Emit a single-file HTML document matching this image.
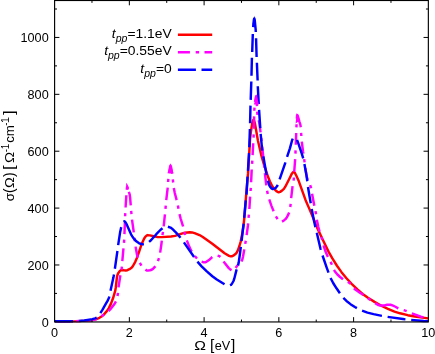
<!DOCTYPE html>
<html><head><meta charset="utf-8"><title>plot</title>
<style>
html,body{margin:0;padding:0;background:#fff;}
body{width:435px;height:354px;overflow:hidden;}
svg{display:block;}
text{font-family:"Liberation Sans",sans-serif;fill:#000;}
.it{font-style:italic;}
</style></head><body>
<div style="will-change:transform;width:435px;height:354px;">
<svg width="435" height="354" viewBox="0 0 435 354">
<g fill="none" stroke-width="2.45" stroke-linejoin="round" stroke-linecap="butt">
<path stroke="#ff0000" d="M55.00,321.40 L77.80,321.13 L87.95,320.60 L92.25,320.03 L96.35,319.07 L99.45,317.78 L101.90,316.24 L103.80,314.59 L107.00,310.87 L108.85,308.06 L110.90,303.90 L113.10,298.04 L115.20,290.93 L115.80,287.24 L117.00,276.72 L117.60,274.61 L118.55,272.66 L120.05,270.72 L120.75,270.29 L122.45,270.00 L124.20,270.30 L125.70,270.50 L127.35,270.19 L129.45,269.23 L131.55,267.84 L132.80,266.25 L135.25,261.80 L137.00,257.67 L139.25,251.32 L141.70,243.91 L144.05,238.77 L145.25,236.88 L146.90,235.38 L147.65,235.10 L149.85,235.36 L154.90,236.54 L157.85,237.15 L161.85,237.12 L171.05,236.48 L175.05,235.89 L182.45,233.38 L184.85,232.73 L189.80,232.31 L192.00,232.41 L194.60,233.10 L199.50,235.06 L202.80,237.01 L212.30,243.72 L220.75,250.27 L224.60,253.29 L229.05,255.91 L230.55,256.37 L231.80,256.30 L233.25,255.70 L235.15,254.28 L236.55,252.87 L237.65,250.83 L239.35,246.22 L240.70,241.55 L242.25,233.86 L243.60,224.91 L244.65,214.94 L246.10,195.25 L248.00,173.64 L250.05,139.38 L250.90,131.90 L252.15,123.64 L252.90,120.63 L253.35,119.85 L253.65,119.85 L254.10,120.51 L254.85,123.09 L256.30,131.19 L257.90,140.44 L261.20,154.85 L263.70,163.55 L268.10,177.01 L269.95,181.49 L272.40,186.46 L273.90,188.74 L276.40,191.15 L277.75,191.99 L278.80,192.20 L280.00,191.91 L281.65,190.88 L283.90,188.88 L285.30,186.71 L289.85,177.78 L291.85,173.64 L292.80,172.38 L293.45,172.01 L294.05,172.14 L294.85,172.95 L296.25,175.51 L298.40,180.19 L305.50,199.95 L309.15,208.38 L312.60,216.45 L316.90,227.12 L322.30,238.79 L328.65,251.85 L332.20,258.19 L336.95,265.74 L341.50,272.15 L346.45,278.27 L351.60,283.89 L357.40,289.48 L362.65,293.93 L367.95,297.79 L374.50,301.91 L382.25,306.25 L387.95,308.95 L394.50,311.59 L400.05,313.31 L407.70,315.18 L414.80,316.47 L428.00,318.40"/>
<path stroke="#ff00ff" d="M58.05,321.39 L70.25,321.25 M75.85,321.10 L79.05,321.00 M84.64,320.77 L91.55,320.35 L94.90,319.62 L96.66,319.07 M101.45,316.27 L104.04,314.39 M108.56,311.09 L110.40,309.20 L114.85,303.44 L115.93,301.44 M117.50,296.07 L118.01,292.91 M118.55,287.34 L120.00,277.57 L120.39,275.28 M121.47,269.78 L121.88,266.61 M122.33,261.03 L123.25,250.56 L123.48,248.47 M123.99,242.90 L124.20,239.70 M124.45,234.11 L124.91,221.89 M125.13,216.30 L125.28,213.10 M125.57,207.51 L126.34,195.25 M126.76,189.66 L127.10,186.69 L127.19,186.51 M128.86,191.78 L129.65,194.29 L130.10,197.44 L130.74,205.32 M131.17,210.91 L131.44,214.09 M132.01,219.66 L133.78,232.36 M134.50,237.91 L134.89,241.09 M135.55,246.65 L136.85,253.82 L137.87,257.65 M139.84,262.89 L141.30,265.38 L141.48,265.64 M145.40,269.59 L146.75,270.44 L147.70,270.60 L149.95,270.27 L151.65,269.74 L153.15,268.65 L155.05,266.63 L155.38,266.17 M157.93,261.20 L158.97,258.17 M160.14,252.69 L161.20,245.62 L161.81,240.64 M162.49,235.09 L162.93,231.92 M163.70,226.37 L164.93,214.37 M165.45,208.79 L165.75,205.61 M166.26,200.03 L167.72,187.58 M168.08,182.00 L168.36,178.81 M169.08,173.26 L170.15,166.39 L170.45,165.62 L170.65,165.73 L171.10,167.43 L172.09,173.76 M172.81,179.31 L173.18,182.49 M173.80,188.05 L174.80,193.10 L176.67,200.06 M177.88,205.53 L178.49,208.67 M179.49,214.18 L180.80,219.06 L182.90,225.80 L183.07,226.49 M184.31,231.95 L185.13,235.04 M186.83,240.38 L189.45,247.11 L191.35,250.95 L191.71,251.57 M194.84,256.20 L197.03,258.53 M201.63,261.65 L203.70,262.33 L205.00,262.35 L206.35,261.82 L209.75,259.40 L212.20,257.09 L212.35,256.99 M217.56,255.58 L219.45,256.16 L220.36,256.96 M223.51,261.58 L228.80,268.11 L230.45,269.60 L231.57,270.20 M235.69,267.98 L236.70,266.35 L237.58,265.42 M241.47,261.44 L242.30,259.80 L243.10,256.26 L244.29,249.40 M245.24,243.88 L245.76,240.72 M246.63,235.19 L247.95,225.47 L248.15,223.38 M248.57,217.79 L248.84,214.61 M249.36,209.03 L250.12,196.58 M250.58,191.00 L250.80,187.80 M251.10,182.21 L251.72,169.48 M252.10,163.90 L252.30,160.70 M252.62,155.11 L253.22,143.19 M253.53,137.60 L253.66,134.40 M253.82,128.80 L254.14,116.39 M254.32,110.80 L254.51,107.60 M255.04,102.03 L255.70,98.05 L256.25,96.13 L256.40,96.00 L256.65,98.84 L256.94,106.11 M257.18,111.70 L257.51,114.89 M258.72,120.35 L259.50,124.35 L260.58,132.40 M261.23,137.96 L261.58,141.14 M262.19,146.71 L263.47,158.84 M264.01,164.41 L264.32,167.60 M264.88,173.17 L266.31,185.28 M267.11,190.83 L267.74,193.96 M269.23,199.36 L271.55,206.09 L273.63,211.20 M275.92,216.30 L277.55,219.06 M282.02,221.58 L283.95,220.43 L285.45,219.14 L286.95,217.15 L288.50,214.16 L289.13,212.46 M290.26,206.98 L290.68,203.81 M291.16,198.23 L292.57,186.19 M293.60,180.69 L293.92,177.50 M294.23,171.91 L295.17,159.19 M295.43,153.60 L295.57,150.40 M295.81,144.81 L296.21,132.99 M296.43,127.40 L296.58,124.20 M296.85,118.61 L297.15,115.09 L297.25,115.01 L297.65,115.51 L298.50,118.33 L299.55,122.02 L300.35,124.58 L300.77,127.21 M301.10,132.80 L301.32,136.00 M301.79,141.58 L303.00,151.21 L303.37,153.67 M304.19,159.21 L304.60,162.39 M305.29,167.94 L306.75,176.45 L307.65,179.87 L307.75,180.15 M310.18,185.19 L310.95,187.69 L311.07,188.26 M312.06,193.77 L314.31,205.66 M315.51,211.13 L316.05,214.28 M316.82,219.83 L318.35,227.12 L319.55,231.60 M321.41,236.88 L322.30,239.95 M323.54,245.41 L325.45,251.26 L327.75,256.78 L327.85,256.99 M330.56,261.88 L331.94,264.77 M334.02,269.96 L335.15,271.79 L337.40,274.50 L340.10,276.98 L343.00,279.16 M347.89,281.88 L349.75,283.28 L350.35,283.91 M353.91,288.23 L356.00,290.07 L359.90,292.74 L363.32,294.94 M367.89,298.18 L370.51,300.03 M375.17,303.11 L378.55,305.11 L380.05,305.57 L384.40,305.46 L387.20,304.80 L390.50,304.74 L392.45,305.39 L394.90,306.50 L398.30,308.30 L398.37,308.33 M403.68,310.09 L406.69,311.17 M411.88,313.28 L420.80,316.61 L423.37,317.37"/>
<path stroke="#0000ff" d="M55.00,321.20 L73.10,321.20 M78.90,321.01 L84.35,320.51 L92.35,319.16 L95.15,318.36 L96.70,317.59 L96.72,317.57 M100.35,313.04 L102.55,309.60 L106.05,303.48 L107.85,300.41 L109.05,297.43 L109.30,296.46 M110.50,290.79 L113.45,277.35 L113.98,274.49 M114.88,268.76 L117.15,252.89 L117.45,250.94 M118.15,245.18 L120.10,232.31 L121.10,227.70 L121.27,227.11 M123.64,221.83 L124.15,221.33 L124.60,221.39 L125.35,222.18 L126.70,224.43 L131.05,234.29 L132.65,237.00 L134.75,239.76 L136.65,241.55 L138.80,243.07 L140.50,243.75 L143.05,244.35 L143.94,244.40 M149.09,241.82 L150.95,240.27 L156.30,234.19 L160.60,229.77 L162.50,228.31 M167.89,226.76 L170.50,227.61 L172.10,228.73 L177.05,233.59 L180.53,237.70 M183.92,242.41 L194.06,256.93 M197.43,261.66 L201.60,266.35 L206.80,271.42 L212.35,276.24 L216.80,279.55 L222.45,283.04 L224.54,284.33 M229.96,285.19 L231.00,284.80 L231.95,283.77 L233.50,281.00 L234.35,278.44 L236.35,270.34 L236.66,269.39 M237.97,265.62 L238.70,262.59 L240.10,252.65 L240.84,246.96 M241.55,241.21 L243.63,223.76 M244.16,217.98 L245.76,200.35 M246.51,194.60 L247.56,176.63 M247.95,170.84 L249.00,153.08 M249.29,147.28 L249.90,129.02 M250.09,123.22 L250.50,105.64 M250.71,99.84 L251.31,81.53 M251.48,75.73 L251.91,57.77 M252.20,51.97 L252.82,34.08 M253.14,27.19 L253.85,20.07 L254.20,18.58 L254.35,18.52 L254.70,19.91 L255.60,28.91 L255.80,31.99 M256.06,38.28 L256.61,56.99 M256.89,62.79 L257.62,80.49 M257.79,86.28 L258.73,104.04 M259.08,109.82 L260.28,128.10 M260.65,133.88 L261.90,147.32 L262.32,150.67 M263.35,156.38 L266.35,173.76 L266.61,175.06 M267.85,180.72 L269.25,185.12 L270.05,186.67 L271.55,188.40 L272.45,188.95 L273.40,188.93 L274.90,188.34 L276.00,187.61 L277.15,186.07 L277.80,184.91 M279.60,179.40 L285.20,163.20 L285.43,162.48 M287.07,156.92 L289.90,148.31 L292.10,140.29 L292.78,138.63 M297.03,139.90 L298.60,144.16 L301.70,153.36 L303.20,158.31 M304.42,163.98 L306.50,175.65 L307.32,181.27 M307.99,187.03 L309.50,196.29 L310.75,203.30 M311.67,209.03 L314.10,221.22 L315.42,227.12 M316.79,232.76 L320.50,248.76 L320.83,249.95 M322.53,255.50 L326.95,268.30 L328.52,272.60 M330.57,278.03 L333.15,282.99 L336.50,288.31 L339.91,293.31 M343.36,297.97 L346.45,300.98 L350.50,304.16 L354.90,307.02 L356.89,308.15 M362.10,310.70 L367.45,312.58 L373.55,314.16 L381.90,315.84 M387.61,316.85 L403.00,319.08 L405.42,319.39 M411.18,320.07 L423.70,320.95 L428.10,321.10"/>
</g>
<g stroke="none">
<polygon fill="#ff00ff" points="126.2,182.7 127.5,184.6 128.9,187.6 128.9,189.6 126.0,189.6"/>
<polygon fill="#ff00ff" points="170.5,163.3 173.5,173.2 167.5,173.2"/>
<polygon fill="#ff00ff" points="256.6,94.3 258.9,104.4 253.9,104.4"/>
<polygon fill="#ff00ff" points="296.7,113.0 298.8,117.5 300.2,122 297.6,122 295.6,123.4"/>
<polygon fill="#0000ff" points="254.3,15.7 256.0,24.5 252.5,24.5"/>
</g>
<g stroke="#000" stroke-width="1.15" fill="none">
<rect x="54.6" y="0.5" width="373.75" height="321.45"/>
</g>
<g stroke="#000" stroke-width="1" fill="none">
<line x1="91.97" y1="321.95" x2="91.97" y2="319.55"/>
<line x1="91.97" y1="0.5" x2="91.97" y2="2.9"/>
<line x1="129.35" y1="321.95" x2="129.35" y2="317.15"/>
<line x1="129.35" y1="0.5" x2="129.35" y2="5.3"/>
<line x1="166.72" y1="321.95" x2="166.72" y2="319.55"/>
<line x1="166.72" y1="0.5" x2="166.72" y2="2.9"/>
<line x1="204.10" y1="321.95" x2="204.10" y2="317.15"/>
<line x1="204.10" y1="0.5" x2="204.10" y2="5.3"/>
<line x1="241.47" y1="321.95" x2="241.47" y2="319.55"/>
<line x1="241.47" y1="0.5" x2="241.47" y2="2.9"/>
<line x1="278.85" y1="321.95" x2="278.85" y2="317.15"/>
<line x1="278.85" y1="0.5" x2="278.85" y2="5.3"/>
<line x1="316.23" y1="321.95" x2="316.23" y2="319.55"/>
<line x1="316.23" y1="0.5" x2="316.23" y2="2.9"/>
<line x1="353.60" y1="321.95" x2="353.60" y2="317.15"/>
<line x1="353.60" y1="0.5" x2="353.60" y2="5.3"/>
<line x1="390.98" y1="321.95" x2="390.98" y2="319.55"/>
<line x1="390.98" y1="0.5" x2="390.98" y2="2.9"/>
<line x1="54.6" y1="293.41" x2="57.0" y2="293.41"/>
<line x1="428.35" y1="293.41" x2="425.95000000000005" y2="293.41"/>
<line x1="54.6" y1="264.97" x2="59.4" y2="264.97"/>
<line x1="428.35" y1="264.97" x2="423.55" y2="264.97"/>
<line x1="54.6" y1="236.53" x2="57.0" y2="236.53"/>
<line x1="428.35" y1="236.53" x2="425.95000000000005" y2="236.53"/>
<line x1="54.6" y1="208.09" x2="59.4" y2="208.09"/>
<line x1="428.35" y1="208.09" x2="423.55" y2="208.09"/>
<line x1="54.6" y1="179.65" x2="57.0" y2="179.65"/>
<line x1="428.35" y1="179.65" x2="425.95000000000005" y2="179.65"/>
<line x1="54.6" y1="151.21" x2="59.4" y2="151.21"/>
<line x1="428.35" y1="151.21" x2="423.55" y2="151.21"/>
<line x1="54.6" y1="122.77" x2="57.0" y2="122.77"/>
<line x1="428.35" y1="122.77" x2="425.95000000000005" y2="122.77"/>
<line x1="54.6" y1="94.33" x2="59.4" y2="94.33"/>
<line x1="428.35" y1="94.33" x2="423.55" y2="94.33"/>
<line x1="54.6" y1="65.89" x2="57.0" y2="65.89"/>
<line x1="428.35" y1="65.89" x2="425.95000000000005" y2="65.89"/>
<line x1="54.6" y1="37.45" x2="59.4" y2="37.45"/>
<line x1="428.35" y1="37.45" x2="423.55" y2="37.45"/>
<line x1="54.6" y1="9.01" x2="57.0" y2="9.01"/>
<line x1="428.35" y1="9.01" x2="425.95000000000005" y2="9.01"/>
</g>
<g font-size="13.3">
<text x="51.08" y="337" textLength="7.04" lengthAdjust="spacingAndGlyphs">0</text>
<text x="125.83" y="337" textLength="7.04" lengthAdjust="spacingAndGlyphs">2</text>
<text x="200.58" y="337" textLength="7.04" lengthAdjust="spacingAndGlyphs">4</text>
<text x="275.33" y="337" textLength="7.04" lengthAdjust="spacingAndGlyphs">6</text>
<text x="350.08" y="337" textLength="7.04" lengthAdjust="spacingAndGlyphs">8</text>
<text x="421.31" y="337" textLength="14.08" lengthAdjust="spacingAndGlyphs">10</text>
<text x="41.66" y="326.55" textLength="7.04" lengthAdjust="spacingAndGlyphs">0</text>
<text x="27.58" y="269.67" textLength="21.12" lengthAdjust="spacingAndGlyphs">200</text>
<text x="27.58" y="212.79" textLength="21.12" lengthAdjust="spacingAndGlyphs">400</text>
<text x="27.58" y="155.91" textLength="21.12" lengthAdjust="spacingAndGlyphs">600</text>
<text x="27.58" y="99.03" textLength="21.12" lengthAdjust="spacingAndGlyphs">800</text>
<text x="20.54" y="42.15" textLength="28.16" lengthAdjust="spacingAndGlyphs">1000</text>
</g>
<g>
<g transform="translate(171.7,37.7) scale(1.02,1)"><text x="0" y="0" text-anchor="end" font-size="13.6"><tspan class="it">t</tspan><tspan class="it" font-size="10.3" dy="4.2">pp</tspan><tspan dy="-4.2">=1.1eV</tspan></text></g>
<g transform="translate(171.7,55.15) scale(1.02,1)"><text x="0" y="0" text-anchor="end" font-size="13.6"><tspan class="it">t</tspan><tspan class="it" font-size="10.3" dy="4.2">pp</tspan><tspan dy="-4.2">=0.55eV</tspan></text></g>
<g transform="translate(171.7,72.6) scale(1.02,1)"><text x="0" y="0" text-anchor="end" font-size="13.6"><tspan class="it">t</tspan><tspan class="it" font-size="10.3" dy="4.2">pp</tspan><tspan dy="-4.2">=0</tspan></text></g>
<g fill="none" stroke-width="2.45">
<line x1="177.9" y1="34.75" x2="212.2" y2="34.75" stroke="#ff0000"/>
<path d="M177.9,52.2H189.9M195.7,52.2H199.1M204.5,52.2H212.2" stroke="#ff00ff"/>
<path d="M177.9,69.75H195.9M201.5,69.75H212.2" stroke="#0000ff"/>
</g>
</g>
<text transform="translate(194.13,350.10) scale(1.154,1)" font-size="13.6">Ω</text><text transform="translate(210.11,350.10) scale(1.084,1)" font-size="14.3">[</text><text transform="translate(214.76,350.10) scale(0.932,1)" font-size="13.6">eV</text><text transform="translate(230.88,350.10) scale(1.084,1)" font-size="14.3">]</text>
<g transform="translate(14.4,200.7) rotate(-90)">
<text transform="translate(-0.58,0.00) scale(0.998,1)" font-size="13.6">σ</text>
<text transform="translate(7.73,0.00) scale(0.976,1)" font-size="14.3">(</text>
<text transform="translate(12.58,0.00) scale(1.065,1)" font-size="13.6">Ω</text>
<text transform="translate(23.60,0.00) scale(0.976,1)" font-size="14.3">)</text>
<text transform="translate(30.71,0.00) scale(1.189,1)" font-size="14.3">[</text>
<text transform="translate(37.66,0.00) scale(1.099,1)" font-size="13.6">Ω</text>
<text transform="translate(48.56,-5.80) scale(0.980,1)" font-size="10.0">-</text>
<text transform="translate(51.47,-5.80) scale(0.971,1)" font-size="10.0">1</text>
<text transform="translate(57.94,0.00) scale(0.972,1)" font-size="13.6">cm</text>
<text transform="translate(74.96,-5.80) scale(0.980,1)" font-size="10.0">-</text>
<text transform="translate(77.60,-5.80) scale(1.064,1)" font-size="10.0">1</text>
<text transform="translate(85.67,0.00) scale(1.189,1)" font-size="14.3">]</text>
</g>
</svg>
</div>
</body></html>
